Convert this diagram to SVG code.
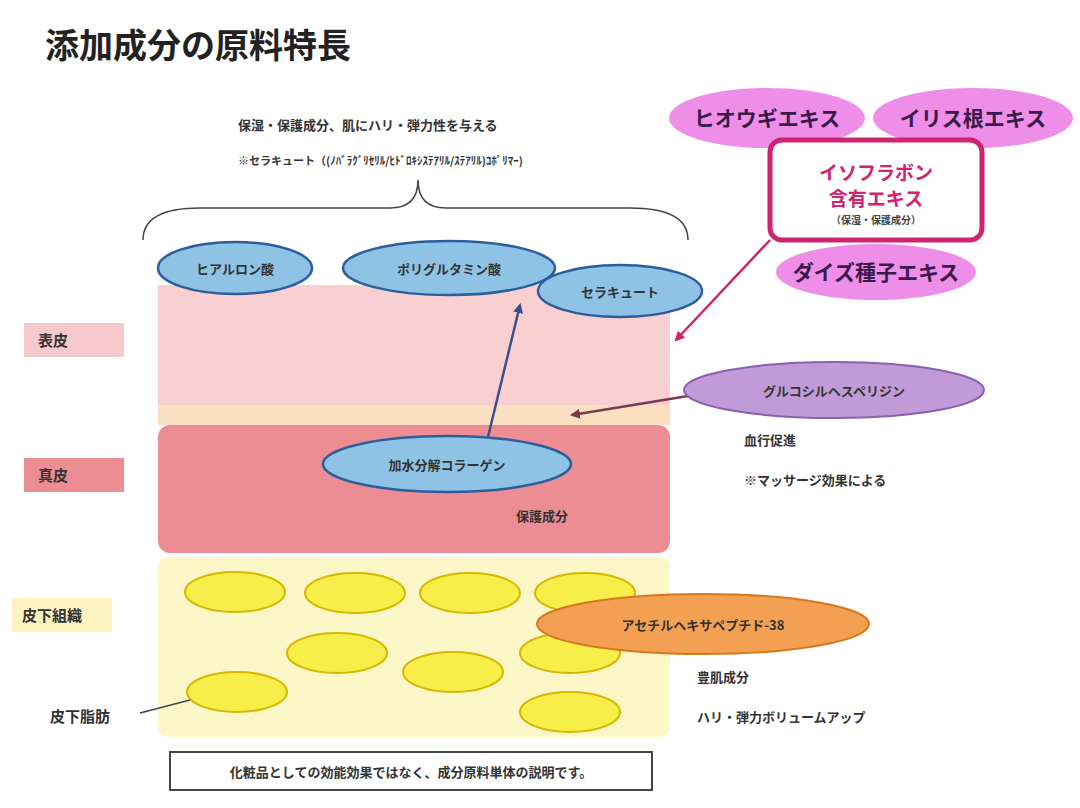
<svg xmlns="http://www.w3.org/2000/svg" width="1080" height="808" viewBox="0 0 1080 808">
<defs>
<style>
text{font-family:"Noto Sans CJK JP","Noto Sans",sans-serif;font-weight:bold}
.s{font-size:13px;fill:#333}
.lbl{font-size:15px;fill:#333}
.blue{fill:#8fc3e6;stroke:#2c5e9e;stroke-width:2.5}
.fat{fill:#f7ee4a;stroke:#d6b800;stroke-width:2}
.pink{fill:#ee8ee8}
.pt{font-size:21px;fill:#3a1a4a}
</style>
<marker id="ab" markerWidth="10" markerHeight="10" refX="8" refY="5" orient="auto" markerUnits="userSpaceOnUse"><path d="M0,0 L10,5 L0,10z" fill="#3a4f8c"/></marker>
<marker id="am" markerWidth="10" markerHeight="10" refX="8" refY="5" orient="auto" markerUnits="userSpaceOnUse"><path d="M0,0 L10,5 L0,10z" fill="#d0246e"/></marker>
<marker id="ap" markerWidth="10" markerHeight="10" refX="8" refY="5" orient="auto" markerUnits="userSpaceOnUse"><path d="M0,0 L10,5 L0,10z" fill="#7a3a50"/></marker>
</defs>
<rect width="1080" height="808" fill="#fff"/>
<text x="45" y="58" style="font-size:34px;font-weight:bold;fill:#222">添加成分の原料特長</text>
<text x="238" y="130" class="s">保湿・保護成分、肌にハリ・弾力性を与える</text>
<text x="238" y="165" class="s" style="font-size:11px">※セラキュート（(ﾉﾊﾞﾗｸﾞﾘｾﾘﾙ/ﾋﾄﾞﾛｷｼｽﾃｱﾘﾙ/ｽﾃｱﾘﾙ)ｺﾎﾟﾘﾏｰ)</text>
<path d="M143,240 Q143,208 200,208 L390,208 Q418,208 418,180 Q418,208 446,208 L630,208 Q688,208 688,240" fill="none" stroke="#444" stroke-width="1.5"/>
<g id="layers">
<rect x="158" y="285" width="512" height="128" fill="#f9d0d2"/>
<rect x="158" y="405" width="512" height="20" fill="#fae0c0"/>
<rect x="158" y="425" width="512" height="128" rx="12" fill="#ec8d93"/>
<rect x="158" y="557" width="512" height="180" rx="10" fill="#fdf6c6"/>
</g>
<g id="side-labels">
<rect x="24" y="323" width="100" height="34" fill="#f6c9cc"/><text x="38" y="346" class="lbl">表皮</text>
<rect x="24" y="458" width="100" height="34" fill="#ec8d93"/><text x="38" y="481" class="lbl">真皮</text>
<rect x="12" y="598" width="100" height="34" fill="#fdf3c0"/><text x="22" y="621" class="lbl">皮下組織</text>
<text x="50" y="722" class="lbl">皮下脂肪</text>
</g>
<g id="fat">
<ellipse cx="235" cy="592" rx="50" ry="20" class="fat"/>
<ellipse cx="355" cy="593" rx="50" ry="20" class="fat"/>
<ellipse cx="470" cy="593" rx="50" ry="20" class="fat"/>
<ellipse cx="585" cy="593" rx="50" ry="20" class="fat"/>
<ellipse cx="337" cy="653" rx="50" ry="20" class="fat"/>
<ellipse cx="453" cy="672" rx="50" ry="20" class="fat"/>
<ellipse cx="570" cy="653" rx="50" ry="20" class="fat"/>
<ellipse cx="237" cy="692" rx="50" ry="20" class="fat"/>
<ellipse cx="570" cy="712" rx="50" ry="20" class="fat"/>
</g>
<g id="connectors">
<line x1="140" y1="713" x2="190" y2="700" stroke="#444" stroke-width="1.5"/>
<line x1="488" y1="437" x2="520" y2="305" stroke="#3a4f8c" stroke-width="2.5" marker-end="url(#ab)"/>
<line x1="770" y1="240" x2="676" y2="340" stroke="#d0246e" stroke-width="2.5" marker-end="url(#am)"/>
<line x1="688" y1="396" x2="572" y2="415" stroke="#7a3a50" stroke-width="2.5" marker-end="url(#ap)"/>
</g>
<g id="hyaluron"><ellipse cx="235" cy="268" rx="77" ry="26" class="blue"/><text x="235" y="274" text-anchor="middle" class="s">ヒアルロン酸</text></g>
<g id="polyglu"><ellipse cx="449" cy="268" rx="106" ry="27" class="blue"/><text x="449" y="274" text-anchor="middle" class="s">ポリグルタミン酸</text></g>
<g id="ceracute"><ellipse cx="620" cy="291" rx="82" ry="26" class="blue"/><text x="620" y="297" text-anchor="middle" class="s">セラキュート</text></g>
<g id="collagen"><ellipse cx="447" cy="464" rx="124" ry="28" class="blue"/><text x="447" y="470" text-anchor="middle" class="s">加水分解コラーゲン</text></g>
<text x="516" y="521" class="s">保護成分</text>
<g id="acetyl"><ellipse cx="703" cy="624" rx="166" ry="30" fill="#f4a052" stroke="#d8781e" stroke-width="2"/><text x="703" y="630" text-anchor="middle" class="s">アセチルヘキサペプチド-38</text></g>
<text x="697" y="682" class="s">豊肌成分</text>
<text x="697" y="722" class="s">ハリ・弾力ボリュームアップ</text>
<g id="glucosyl"><ellipse cx="834" cy="390" rx="150" ry="28" fill="#c09bd8" stroke="#8a5fb0" stroke-width="2"/><text x="834" y="396" text-anchor="middle" class="s">グルコシルヘスペリジン</text></g>
<text x="744" y="445" class="s">血行促進</text>
<text x="744" y="485" class="s">※マッサージ効果による</text>
<g id="hiougi"><ellipse cx="767" cy="118" rx="98" ry="30" class="pink"/><text x="767" y="126" text-anchor="middle" class="pt">ヒオウギエキス</text></g>
<g id="iris"><ellipse cx="973" cy="118" rx="100" ry="30" class="pink"/><text x="973" y="126" text-anchor="middle" class="pt">イリス根エキス</text></g>
<g id="daizu"><ellipse cx="876" cy="272" rx="100" ry="28" class="pink"/><text x="876" y="280" text-anchor="middle" class="pt">ダイズ種子エキス</text></g>
<g id="isoflavone"><rect x="770" y="140" width="212" height="100" rx="12" fill="#fff" stroke="#d0246e" stroke-width="5"/>
<text x="876" y="180" text-anchor="middle" style="font-size:19px;fill:#d0246e">イソフラボン</text>
<text x="876" y="206" text-anchor="middle" style="font-size:19px;fill:#d0246e">含有エキス</text>
<text x="876" y="224" text-anchor="middle" style="font-size:10px;fill:#444">（保湿・保護成分）</text></g>
<g id="note"><rect x="170" y="752" width="482" height="38" fill="#fff" stroke="#444" stroke-width="2"/><text x="411" y="777" text-anchor="middle" class="s">化粧品としての効能効果ではなく、成分原料単体の説明です。</text></g>
</svg>
